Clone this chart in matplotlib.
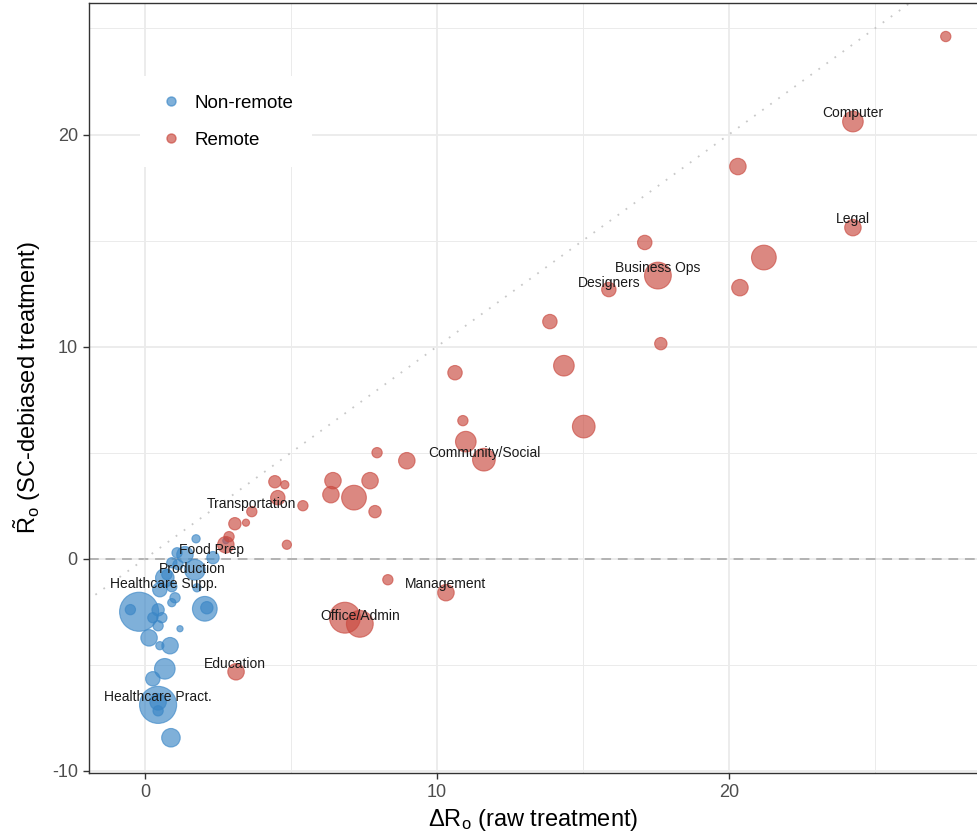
import numpy as np
import matplotlib
matplotlib.use('Agg')
import matplotlib.pyplot as plt
from matplotlib.lines import Line2D
from matplotlib import font_manager

plt.rcParams['font.family'] = ['Liberation Sans', 'DejaVu Sans']
plt.rcParams['axes.unicode_minus'] = False

narrow = 'Liberation Sans Narrow'
names = {f.name for f in font_manager.fontManager.ttflist}
if narrow not in names:
    narrow = 'Liberation Sans'
plt.rcParams['mathtext.fontset'] = 'custom'
plt.rcParams['mathtext.rm'] = narrow
plt.rcParams['mathtext.it'] = narrow

## Non-remote occupations: raw treatment, debiased treatment, employment weight
nr_raw = [1.75, 2.33, 1.10, 1.37, 1.71, 0.92, 1.13, 0.75, 0.51, 0.92, 1.78, 1.03,
          0.92, -0.20, -0.50, 0.45, 0.27, 0.58, 0.45, 2.05, 2.12, 1.20, 0.14, 0.51,
          0.86, 0.68, 0.27, 0.45, 0.45, 0.45, 0.89, 2.77, 0.68]
nr_deb = [0.94, 0.05, 0.28, 0.19, -0.52, -0.19, -0.28, -0.75, -1.46, -1.32, -1.37, -1.84,
          -2.07, -2.50, -2.40, -2.41, -2.78, -2.78, -3.16, -2.36, -2.31, -3.30, -3.73, -4.10,
          -4.10, -5.19, -5.66, -6.89, -6.75, -7.17, -8.44, 0.85, -0.90]
nr_emp = [160, 360, 250, 640, 1000, 250, 250, 250, 490, 250, 160, 250,
          160, 3600, 250, 360, 250, 250, 250, 1440, 360, 90, 640, 160,
          640, 1000, 490, 3240, 640, 250, 810, 90, 810]

## Remote occupations
r_raw = [27.43, 24.25, 20.31, 17.12, 24.25, 21.20, 17.57, 15.89, 20.38, 17.67, 13.87, 14.35,
         10.62, 15.03, 10.89, 10.99, 11.61, 8.97, 7.95, 4.45, 4.79, 4.55, 5.41, 6.44,
         6.37, 7.16, 7.71, 7.88, 3.66, 3.46, 3.08, 2.88, 2.77, 4.86, 8.32, 10.31,
         6.85, 7.36, 3.12]
r_deb = [24.62, 20.61, 18.49, 14.91, 15.61, 14.20, 13.35, 12.69, 12.78, 10.14, 11.18, 9.10,
         8.77, 6.23, 6.51, 5.52, 4.67, 4.62, 5.00, 3.63, 3.49, 2.88, 2.50, 3.68,
         3.02, 2.88, 3.68, 2.22, 2.22, 1.70, 1.65, 1.04, 0.66, 0.66, -0.99, -1.60,
         -2.78, -3.07, -5.33]
r_emp = [250, 1000, 640, 490, 640, 1440, 1690, 490, 640, 360, 490, 1000,
         490, 1210, 250, 1000, 1210, 640, 250, 360, 160, 490, 250, 640,
         640, 1440, 640, 360, 250, 120, 360, 250, 640, 200, 250, 640,
         2250, 1690, 640]

## occupation labels: (text, raw, debiased)
lab_text = ['Computer', 'Legal', 'Business Ops', 'Designers', 'Community/Social',
            'Transportation', 'Food Prep', 'Production', 'Healthcare Supp.',
            'Management', 'Office/Admin', 'Education', 'Healthcare Pract.']
lab_raw = [24.25, 24.25, 17.57, 15.89, 11.64, 3.66, 2.29, 1.61, 0.65, 10.31, 7.36, 3.08, 0.45]
lab_deb = [21.0, 16.0, 13.73, 13.0, 5.0, 2.6, 0.42, -0.50, -1.18, -1.18, -2.69, -4.95, -6.5]

blue = '#3a86c6'
red = '#c9483e'
size_k = 0.22

fig = plt.figure(figsize=(9.77, 8.36), dpi=100)
ax = fig.add_axes([0.091, 0.0754, 0.909, 0.921])

ax.set_xlim(-1.92, 28.5)
ax.set_ylim(-10.1, 26.2)

ax.set_xticks([0, 10, 20])
ax.set_yticks([-10, 0, 10, 20])
ax.set_xticks([5, 15, 25], minor=True)
ax.set_yticks([-5, 5, 15, 25], minor=True)
ax.grid(True, which='major', color='#ebebeb', lw=1.3, zorder=0)
ax.grid(True, which='minor', color='#ebebeb', lw=0.7, zorder=0)
ax.set_axisbelow(True)
ax.tick_params(which='minor', length=0)
ax.tick_params(which='major', length=4, width=1, color='#333333',
               labelsize=13, labelcolor='#4d4d4d', pad=4)
for lbl in ax.get_xticklabels() + ax.get_yticklabels():
    lbl.set_family(narrow)

for s in ['left', 'bottom', 'top']:
    ax.spines[s].set_color('#333333')
    ax.spines[s].set_linewidth(1.0)
ax.spines['right'].set_visible(False)

# reference lines
ax.axhline(0, color='#b3b3b3', lw=1.4, linestyle=(0, (5, 3.5)), zorder=1)
ax.plot([-5, 40], [-5, 40], color='#c8c8c8', lw=1.3, linestyle=(0, (1, 4.5)), zorder=1)

ax.scatter(nr_raw, nr_deb, s=np.array(nr_emp) * size_k, color=blue, alpha=0.65,
           edgecolors=blue, linewidths=0.8, zorder=3)
ax.scatter(r_raw, r_deb, s=np.array(r_emp) * size_k, color=red, alpha=0.65,
           edgecolors=red, linewidths=0.8, zorder=3)

for t, x, y in zip(lab_text, lab_raw, lab_deb):
    ax.text(x, y, t, ha='center', va='center', fontsize=10, color='#1a1a1a', zorder=5)

ax.set_xlabel(r'$\Delta\mathrm{R}_\mathrm{o}$ (raw treatment)', fontsize=17, color='black',
              labelpad=4, family=narrow)
ax.set_ylabel(r'$\tilde{\mathrm{R}}_\mathrm{o}$ (SC-debiased treatment)', fontsize=17,
              color='black', labelpad=6, family=narrow)

handles = [Line2D([], [], marker='o', linestyle='', markersize=6.5, color=blue, alpha=0.65),
           Line2D([], [], marker='o', linestyle='', markersize=6.5, color=red, alpha=0.65)]
leg = ax.legend(handles, ['Non-remote', 'Remote'], loc='upper left',
                bbox_to_anchor=(140 / 977, 1 - 76 / 836), bbox_transform=fig.transFigure,
                borderaxespad=0, frameon=True, facecolor='white', edgecolor='none',
                framealpha=1, fancybox=False, fontsize=13.5, handletextpad=0.6,
                labelspacing=1.05, borderpad=1.0, handlelength=1.3)

plt.savefig('out.png', dpi=100)
